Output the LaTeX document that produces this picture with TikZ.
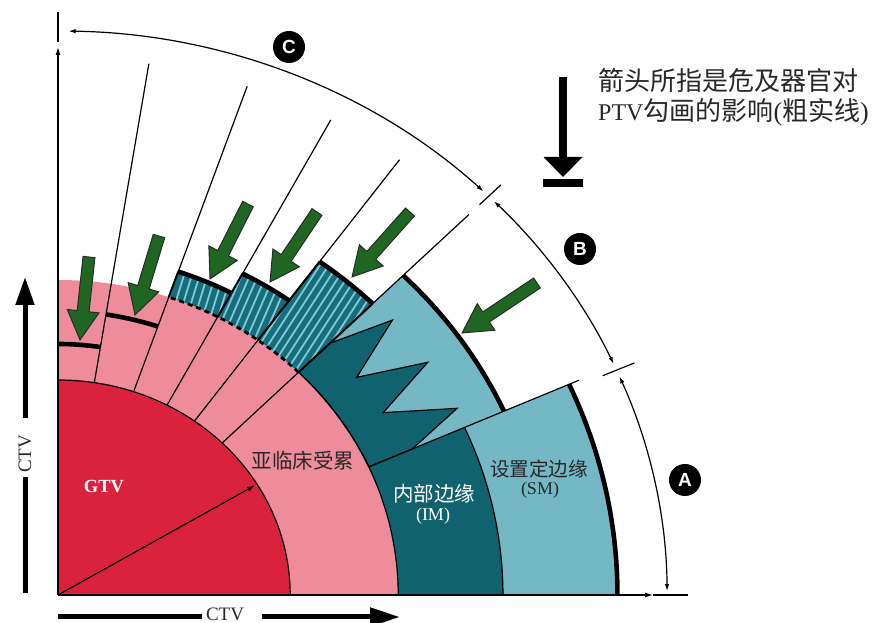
\documentclass[tikz,border=0pt]{standalone}
\usepackage{fontspec}
\setmainfont{Liberation Serif}
\setsansfont{Liberation Sans}
\newfontfamily\cjk{Noto Sans CJK SC}
\usetikzlibrary{arrows.meta,calc}
\definecolor{gtvred}{RGB}{218,34,60}
\definecolor{ctvpink}{RGB}{238,140,155}
\definecolor{imteal}{RGB}{16,98,110}
\definecolor{smblue}{RGB}{116,184,198}
\definecolor{stripebase}{RGB}{22,110,124}
\definecolor{stripelight}{RGB}{130,200,214}
\definecolor{oargreen}{RGB}{30,102,34}
\definecolor{labeltext}{RGB}{40,40,40}
% green "organ at risk" arrow: tail x, tail y, tip x, tip y
\newcommand\oararrow[4]{%
  \pgfmathsetmacro\oarang{atan2(#2-#4,#1-#3)}%
  \pgfmathsetmacro\oarlen{veclen(#1-#3,#2-#4)}%
  \begin{scope}[shift={(#3,#4)},rotate=\oarang]
    \filldraw[fill=oargreen,draw=black!85,line width=0.9pt]
      (0,0) -- (29,16) -- (29,6) -- (\oarlen,6) -- (\oarlen,-6) -- (29,-6) -- (29,-16) -- cycle;
  \end{scope}}
\begin{document}
\begin{tikzpicture}[x=1pt,y=1pt,
  ring/.style={shift={(58,28)},xscale=1.08},
  thinline/.style={line width=1.2pt,draw=black},
  ptvline/.style={line width=4.6pt,draw=black},
  dimtip/.style={<->,>={Latex[length=7pt,width=4.5pt]}},
  axistip/.style={->,>={Latex[length=8pt,width=5pt]}},
  circlabel/.style={circle,fill=black,text=white,minimum size=32pt,inner sep=0pt,
    font=\sffamily\bfseries\fontsize{19}{19}\selectfont},
  cjklabel/.style={font=\fontsize{20.5}{24}\selectfont\cjk,text=labeltext,inner sep=0pt},
  latinlabel/.style={font=\fontsize{18}{20}\selectfont,text=labeltext,inner sep=0pt}]
\useasboundingbox (0,0) rectangle (875,623);
\fill[white] (0,0) rectangle (875,623);

\begin{scope}[ring]
  % CTV (pink) and GTV (red)
  \fill[ctvpink] (0,0) -- (0:315) arc[start angle=0,end angle=90,radius=315] -- cycle;
  \fill[gtvred] (0,0) -- (0:215) arc[start angle=0,end angle=90,radius=215] -- cycle;
  % SM sector (0-24)
  \fill[smblue] (0:315) -- (0:518) arc[start angle=0,end angle=24,radius=518] -- (24:315) arc[start angle=24,end angle=0,radius=315] -- cycle;
  \fill[imteal] (0:315) -- (0:412) arc[start angle=0,end angle=24,radius=412] -- (24:315) arc[start angle=24,end angle=0,radius=315] -- cycle;
  % sector 24-45 with zigzag
  \fill[smblue] (24:315) -- (24:452) arc[start angle=24,end angle=45,radius=452] -- (45:315) arc[start angle=45,end angle=24,radius=315] -- cycle;
  \filldraw[fill=imteal,thinline] (24:315) -- (24:359) -- (26.8:414) -- (31.2:352) -- (34.2:414) -- (38.2:352) -- (41.6:414) -- (45:356) -- (45:315) arc[start angle=45,end angle=24,radius=315] -- cycle;
  % striped sectors
  \foreach \a/\b/\R/\d in {45/54/412/59, 54/62/364/68, 62/71/342/74}{
    \begin{scope}
      \clip (\a:315) -- (\a:\R) arc[start angle=\a,end angle=\b,radius=\R] -- (\b:315) arc[start angle=\b,end angle=\a,radius=315] -- cycle;
      \fill[stripebase] (0,0) rectangle (520,520);
      \foreach \k in {-150,-143,...,24}
        \draw[stripelight,line width=1.8pt] ($(\d+90:\k)+(\d:-100)$) -- ++(\d:700);
    \end{scope}}
  % thin outlines
  \draw[thinline] (0:215) arc[start angle=0,end angle=90,radius=215];
  \draw[thinline] (0:315) arc[start angle=0,end angle=45,radius=315];
  \draw[thinline] (0:412) arc[start angle=0,end angle=24,radius=412];
  \foreach \a in {81,71,62,54,45} \draw[thinline] (\a:215) -- (\a:538);
  \draw[thinline] (24:315) -- (24:528);
  \draw[line width=2pt] (45:315) -- (45:412) (54:315) -- (54:412) (62:315) -- (62:364) (71:315) -- (71:342);
  \draw[line width=2.8pt,dash pattern=on 5pt off 4pt] (45:315) arc[start angle=45,end angle=71,radius=315];
  % PTV contour (thick)
  \draw[ptvline] (81:251) arc[start angle=81,end angle=90,radius=251];
  \draw[ptvline] (71:284) arc[start angle=71,end angle=81,radius=284];
  \draw[ptvline] (62:342) arc[start angle=62,end angle=71,radius=342];
  \draw[ptvline] (54:364) arc[start angle=54,end angle=62,radius=364];
  \draw[ptvline] (45:412) arc[start angle=45,end angle=54,radius=412];
  \draw[ptvline] (24:452) arc[start angle=24,end angle=45,radius=452];
  \draw[ptvline] (0:518) arc[start angle=0,end angle=24,radius=518];
  % GTV radius
  \draw[thinline,-{Latex[length=8pt,width=5pt]}] (0,0) -- (31:213);
  % axes
  \draw[thinline,axistip] (0,0) -- (90:548);
  \draw[thinline] (90:553) -- (90:583);
  \draw[thinline,axistip] (0,0) -- (0:551);
  \draw[thinline] (0:551) -- (0:583);
  % dimension arcs
  \draw[thinline,dimtip] (0.4:564) arc[start angle=0.4,end angle=22.8,radius=564];
  \draw[thinline,dimtip] (24.2:564) arc[start angle=24.2,end angle=44.3,radius=564];
  \draw[thinline,dimtip] (45.7:564) arc[start angle=45.7,end angle=89,radius=564];
  \draw[thinline] (45:552) -- (45:580);
  \draw[thinline] (23.5:550) -- (23.5:582);
\end{scope}

% green arrows (organs at risk)
\oararrow{89}{366}{80}{283}
\oararrow{159}{387}{135}{308}
\oararrow{248}{419}{210}{344}
\oararrow{317}{411}{270}{341}
\oararrow{410}{411}{352}{346}
\oararrow{537}{340}{462}{290}

% dimension labels
\node[circlabel] (labC) at (289,576) {C};
\node[circlabel] (labB) at (580,374) {B};
\node[circlabel] (labA) at (685,143) {A};

% legend arrow
\fill[black] (559,546) rectangle (567,464);
\fill[black] (543.5,466) -- (582.5,466) -- (563,446) -- cycle;
\fill[black] (543,436) rectangle (583,444);
\node[anchor=west,inner sep=0pt,font=\fontsize{26}{30}\selectfont\cjk,text=labeltext] (leg1) at (598,542) {箭头所指是危及器官对};
\node[anchor=west,inner sep=0pt,font=\fontsize{26}{30}\selectfont,text=labeltext] (leg2) at (598,511)
  {{\fontsize{24}{28}\selectfont PTV}{\cjk 勾画的影响}({\cjk 粗实线})};

% region labels
\node[inner sep=0pt,text=white,font=\bfseries\fontsize{18.5}{20}\selectfont] (gtv) at (104,136) {GTV};
\node[cjklabel] (sub) at (303,162) {亚临床受累};
\node[cjklabel,text=white] (im1) at (434,129) {内部边缘};
\node[latinlabel,text=white] (im2) at (433,107) {(IM)};
\node[cjklabel,font=\fontsize{19.6}{22}\selectfont\cjk] (sm1) at (539,154) {设置定边缘};
\node[latinlabel] (sm2) at (540,133) {(SM)};

% CTV extent arrows
\draw[line width=5pt] (58,6) -- (202,6);
\node[inner sep=0pt,font=\fontsize{19}{20}\selectfont,text=labeltext] (ctvb) at (225,8.5) {CTV};
\draw[line width=5pt,-{Triangle[length=30pt,width=18pt]}] (262,6) -- (400,6);
\draw[line width=5pt] (25,30) -- (25,146);
\node[inner sep=0pt,rotate=90,font=\fontsize{19}{20}\selectfont,text=labeltext] (ctvl) at (25,169) {CTV};
\draw[line width=5pt,-{Triangle[length=28pt,width=18pt]}] (25,205) -- (25,346);
\end{tikzpicture}
\end{document}
